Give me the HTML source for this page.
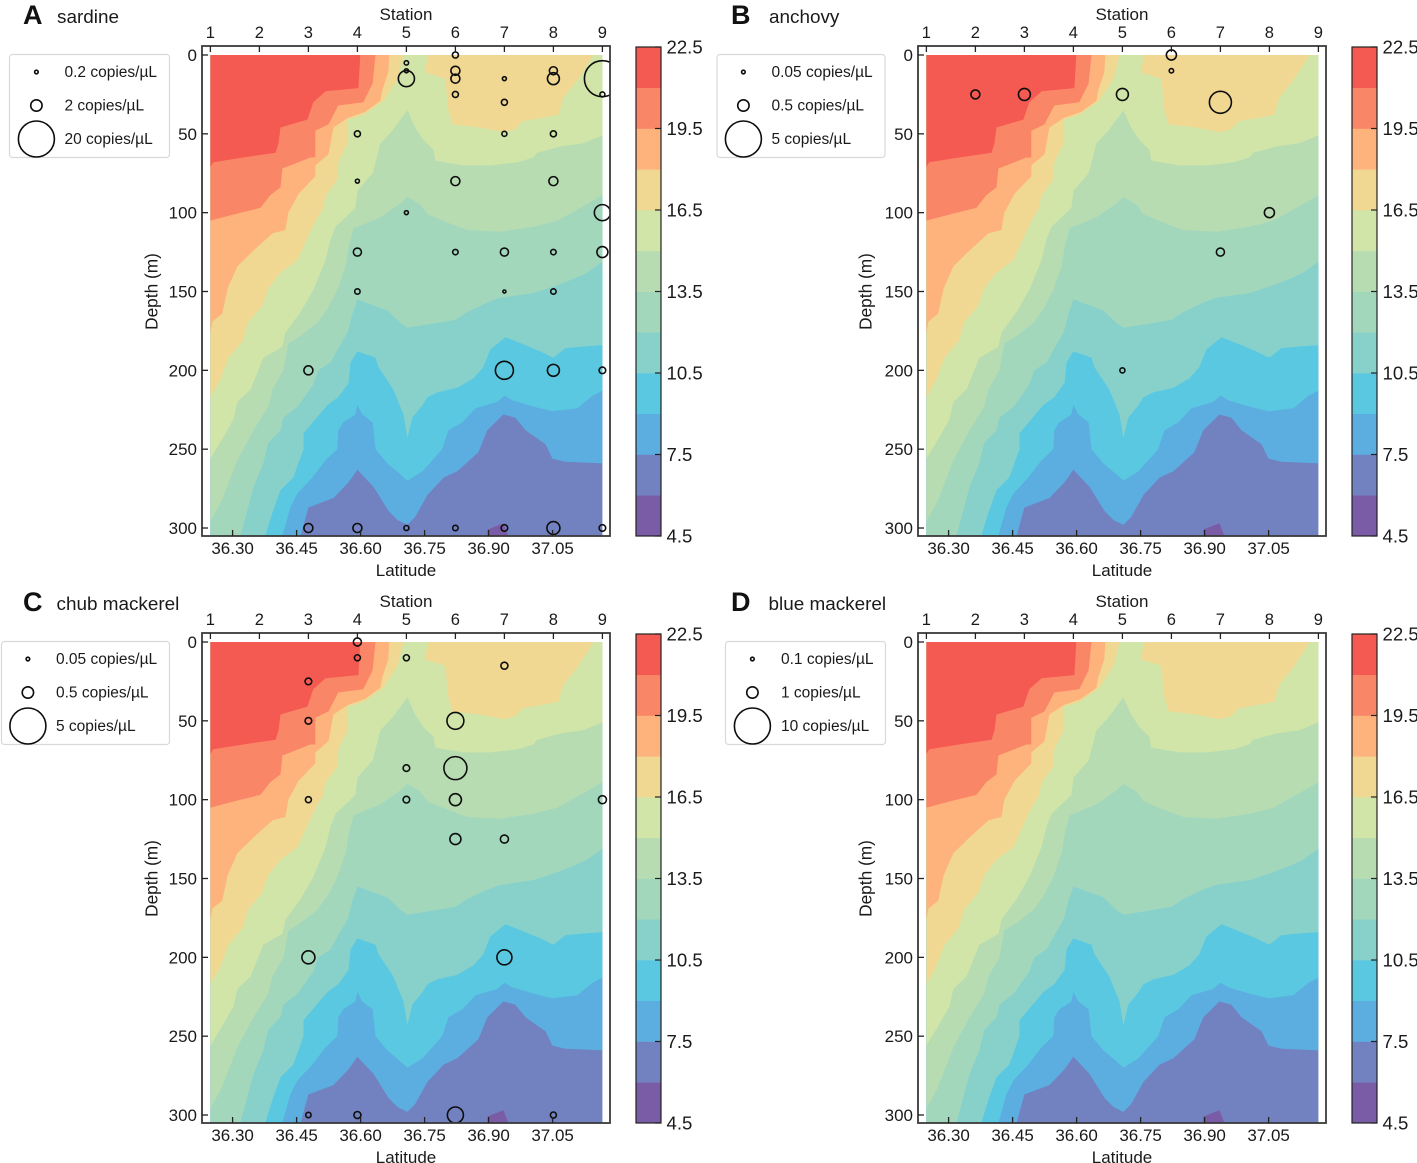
<!DOCTYPE html>
<html lang="en">
<head>
<meta charset="utf-8">
<title>Species eDNA concentration over temperature sections</title>
<style>
html,body{margin:0;padding:0;background:#fff;}
svg{display:block;font-family:"Liberation Sans",Arial,sans-serif;fill:#1a1a1a;}
</style>
</head>
<body>
<svg id="figure" xmlns="http://www.w3.org/2000/svg" width="1417" height="1163" viewBox="0 0 1417 1163"></svg>
<script>
/* ---------- axis values ---------- */
const stationTicks = [1,2,3,4,5,6,7,8,9];
const latitudeTicks = [36.30,36.45,36.60,36.75,36.90,37.05];
const depthTicks = [0,50,100,150,200,250,300];
const colorbarLevels = [4.5,6,7.5,9,10.5,12,13.5,15,16.5,18,19.5,21,22.5];
const colorbarTickValues = [4.5,7.5,10.5,13.5,16.5,19.5,22.5];
const bandColors = ['#7a5ba6','#7281c0','#5cade0','#5ac8e0','#88d1cb','#a2d7bc','#b8dcb2','#d2e5a8','#f0d792','#fdb37b','#fa8668','#f55a52'];

/* ---------- temperature contours, [station, depth m] ---------- */
const contour6Pocket = [[6.65,305],[6.65,301],[6.98,297],[7.08,305]];
const contour7p5 = [[2.84,305],[3,287],[3.51,281],[3.82,271],[4,263],[4.33,274],[4.63,289],[4.82,295],[5.02,298],[5.18,293],[5.43,279],[5.76,268],[6.04,264],[6.47,252],[6.65,238],[6.98,228],[7.22,230],[7.43,238],[7.84,247],[7.98,256],[8.24,258],[9,259]];
const contour9 = [[2.47,305],[2.63,287],[2.78,278],[3.08,268],[3.35,257],[3.59,250],[3.61,238],[3.71,233],[3.96,228],[4,222],[4.1,228],[4.31,233],[4.37,250],[4.61,259],[4.88,266],[5.02,270],[5.33,264],[5.73,250],[5.86,238],[6.14,233],[6.41,224],[6.86,220],[7,216],[7.16,219],[7.59,223],[7.98,226],[8.49,224],[8.8,216],[9,213]];
const contour10p5 = [[2.12,305],[2.27,290],[2.43,276],[2.69,268],[2.9,250],[2.9,240],[3.14,231],[3.39,222],[3.61,217],[3.82,208],[3.86,195],[4,188],[4.37,192],[4.43,198],[4.73,212],[4.94,228],[5.02,243],[5.12,230],[5.33,222],[5.43,217],[5.63,214],[6.04,211],[6.37,205],[6.57,198],[6.71,187],[7.02,179],[7.27,182],[7.73,188],[8,192],[8.24,186],[8.55,185],[9,184]];
const contour12 = [[1.61,305],[1.82,281],[1.88,274],[2.08,259],[2.18,246],[2.43,238],[2.49,230],[2.78,223],[3.1,209],[3.2,200],[3.45,195],[3.61,186],[3.8,176],[3.9,164],[4,155],[4.61,162],[4.88,170],[5.02,173],[6,168],[6.24,163],[6.65,157],[6.92,154],[7.59,151],[8.08,146],[8.49,141],[8.69,138],[9,131]];
const contour13p5 = [[1,296],[1.24,282],[1.55,257],[1.88,238],[2.18,223],[2.27,212],[2.49,200],[2.59,183],[2.84,178],[3.18,170],[3.41,160],[3.59,149],[3.76,134],[3.82,122],[3.92,110],[4.47,103],[4.88,94],[5.02,90],[5.29,95],[5.43,101],[5.9,107],[6.24,111],[6.92,112],[7.59,109],[8.08,105],[8.49,98],[9,89]];
const contour15 = [[1,256],[1.27,242],[1.47,231],[1.55,220],[1.82,212],[2.08,192],[2.47,185],[2.53,176],[2.84,163],[3.1,149],[3.35,130],[3.45,117],[3.55,109],[3.96,97],[4,86],[4.31,75],[4.47,56],[4.71,48],[4.88,41],[5.02,35],[5.18,46],[5.35,54],[5.55,60],[5.59,67],[6.16,70],[6.71,70],[7.27,68],[7.59,65],[7.67,62],[8.14,58],[8.61,56],[9,51]];
const contour16p5West = [[1,217],[1.2,206],[1.37,192],[1.67,181],[1.76,170],[2.06,159],[2.18,148],[2.43,138],[2.78,130],[2.98,116],[3.18,103],[3.29,98],[3.35,89],[3.59,79],[3.61,68],[3.8,56],[3.8,41],[4.12,38],[4.53,29],[4.82,15],[4.94,0]];
const contour16p5East = [[5.45,0],[5.37,11],[5.8,15],[5.84,33],[5.94,44],[6.51,46],[6.98,49],[7.22,47],[7.37,42],[8.1,38],[8.2,27],[8.49,16],[8.82,0]];
const contour18 = [[1,176],[1.04,169],[1.24,164],[1.35,148],[1.55,134],[1.88,124],[2.27,113],[2.53,111],[2.59,100],[2.8,88],[3.14,77],[3.14,70],[3.41,63],[3.51,46],[3.8,40],[4.16,36],[4.47,29],[4.51,22],[4.63,11],[4.65,0]];
const contour19p5 = [[1,105],[1.61,100],[2.02,97],[2.22,89],[2.43,84],[2.47,72],[3.04,65],[3.14,65],[3.14,48],[3.41,44],[3.61,32],[4.12,30],[4.31,18],[4.37,0]];
const contour21 = [[1,71],[1.06,68],[1.67,65],[2.33,62],[2.39,56],[2.43,46],[2.98,41],[3.1,30],[3.35,23],[4.02,21],[4.06,0]];

/* ---------- eDNA samples, [station, depth m, copies/uL] ---------- */
const sardineSamples = [[3,200,1.25],[3,300,1.25],[4,50,0.56],[4,80,0.25],[4,125,1],[4,150,0.45],[4,300,1.25],[5,5,0.3],[5,10,0.25],[5,15,4],[5,100,0.25],[5,300,0.39],[6,0,0.56],[6,10,1.25],[6,15,1.25],[6,25,0.56],[6,80,1.25],[6,125,0.45],[6,300,0.45],[7,15,0.25],[7,30,0.56],[7,50,0.39],[7,125,1],[7,150,0.14],[7,200,5],[7,300,0.67],[8,10,1],[8,15,2.2],[8,50,0.56],[8,80,1.25],[8,125,0.45],[8,150,0.45],[8,200,2.2],[8,300,2.6],[9,15,20],[9,25,0.39],[9,100,4],[9,125,1.87],[9,200,0.67],[9,300,0.67]];
const anchovySamples = [[2,25,0.31],[3,25,0.55],[5,25,0.55],[5,200,0.1],[6,0,0.39],[6,10,0.075],[7,30,1.87],[7,125,0.25],[8,100,0.39]];
const chubSamples = [[3,25,0.17],[3,50,0.17],[3,100,0.14],[3,200,0.65],[3,300,0.11],[4,0,0.25],[4,10,0.14],[4,300,0.19],[5,10,0.14],[5,80,0.17],[5,100,0.17],[6,50,1.1],[6,80,2.04],[6,100,0.56],[6,125,0.47],[6,300,0.99],[7,15,0.19],[7,125,0.25],[7,200,0.87],[8,300,0.14],[9,100,0.25]];
const blueSamples = [];

const sardineLegend = [0.2,2,20];
const anchovyLegend = [0.05,0.5,5];
const chubLegend = [0.05,0.5,5];
const blueLegend = [0.1,1,10];

/* ---------- scales ---------- */
const xStation = s => 210.4 + (s - 1) * 49;
const xLatitude = l => 232.6 + (l - 36.30) / 0.15 * 64;
const yDepth = d => 55 + d * 1.5767;
const yColorbar = t => 536 - (t - 4.5) / 18 * 489;
const radius = (v, maxV) => 18 * Math.sqrt(v / maxV);

const NS = 'http://www.w3.org/2000/svg';
const root = document.getElementById('figure');

function mk(parent, tag, props, txt) {
  const el = document.createElementNS(NS, tag);
  for (const k in props) el.setAttribute(k, props[k]);
  if (txt !== undefined) el.textContent = txt;
  parent.appendChild(el);
  return el;
}
function pointsOf(line, closing) {
  return line.concat(closing).map(p => xStation(p[0]).toFixed(1) + ',' + yDepth(p[1]).toFixed(1)).join(' ');
}

const topLeft = [[1,0]];
const topEdge = [[9,0],[1,0]];
const topAndLeft = [[9,0],[1,0],[1,305]];
const layers = [
  ['band-4p5-6', contour6Pocket, [], 0],
  ['band-7p5-9', contour7p5, topAndLeft, 2],
  ['band-9-10p5', contour9, topAndLeft, 3],
  ['band-10p5-12', contour10p5, topAndLeft, 4],
  ['band-12-13p5', contour12, topAndLeft, 5],
  ['band-13p5-15', contour13p5, topEdge, 6],
  ['band-15-16p5', contour15, topEdge, 7],
  ['band-16p5-18-west', contour16p5West, topLeft, 8],
  ['band-16p5-18-east', contour16p5East, [], 8],
  ['band-18-19p5', contour18, topLeft, 9],
  ['band-19p5-21', contour19p5, topLeft, 10],
  ['band-21-22p5', contour21, topLeft, 11]
];

function drawPanel(cfg) {
  const g = mk(root, 'g', {transform: 'translate(' + cfg.dx + ',' + cfg.dy + ')'});
  
  

  /* panel letter and title */
  const letter = mk(g, 'text', {x: cfg.letterX, y: 24, 'font-size': 27, 'font-weight': 'bold', fill: '#111'}, cfg.letter);
  
  
  const title = mk(g, 'text', {x: cfg.titleX, y: 23, 'font-size': 18.9}, cfg.title);
  
  

  /* contour fill */
  const clipId = 'clip-' + cfg.key;
  const cp = mk(g, 'clipPath', {id: clipId});
  mk(cp, 'rect', {x: 202, y: 46, width: 408, height: 490});

  const field = mk(g, 'g', {});
  
  
  const base = mk(field, 'rect', {x: xStation(1), y: yDepth(0), width: xStation(9) - xStation(1), height: yDepth(305) - yDepth(0), fill: bandColors[1]});
  
  
  layers.forEach(function (l) {
    const poly = mk(field, 'polygon', {points: pointsOf(l[1], l[2]), fill: bandColors[l[3]]});
    
    
  });

  /* samples */
  const maxV = cfg.legend[2];
  const marks = mk(g, 'g', {'clip-path': 'url(#' + clipId + ')'});
  
  
  cfg.samples.forEach(function (s) {
    const c = mk(marks, 'circle', {cx: xStation(s[0]), cy: yDepth(s[1]), r: radius(s[2], maxV).toFixed(2), fill: 'none', stroke: '#0d0d0d', 'stroke-width': 1.6});
    
    
  });

  /* frame and axes */
  const frame = mk(g, 'rect', {x: 202, y: 46, width: 408, height: 490, fill: 'none', stroke: '#3a3a3a', 'stroke-width': 1.8});
  
  

  const topAxis = mk(g, 'g', {});
  
  
  stationTicks.forEach(function (s) {
    mk(topAxis, 'line', {x1: xStation(s), x2: xStation(s), y1: 46, y2: 52, stroke: '#222', 'stroke-width': 1.3});
    const t = mk(topAxis, 'text', {x: xStation(s), y: 38, 'font-size': 16.5, 'text-anchor': 'middle'}, String(s));
    
    
  });
  const stTitle = mk(g, 'text', {x: 406, y: 20, 'font-size': 17, 'text-anchor': 'middle'}, 'Station');
  
  

  const botAxis = mk(g, 'g', {});
  
  
  latitudeTicks.forEach(function (l) {
    mk(botAxis, 'line', {x1: xLatitude(l), x2: xLatitude(l), y1: 530, y2: 536, stroke: '#222', 'stroke-width': 1.3});
    const t = mk(botAxis, 'text', {x: xLatitude(l), y: 554, 'font-size': 17, 'text-anchor': 'middle'}, l.toFixed(2));
    
    
  });
  const latTitle = mk(g, 'text', {x: 406, y: 576, 'font-size': 17, 'text-anchor': 'middle'}, 'Latitude');
  
  

  const leftAxis = mk(g, 'g', {});
  
  
  depthTicks.forEach(function (d) {
    mk(leftAxis, 'line', {x1: 202, x2: 208, y1: yDepth(d), y2: yDepth(d), stroke: '#222', 'stroke-width': 1.3});
    const t = mk(leftAxis, 'text', {x: 197, y: yDepth(d) + 6, 'font-size': 17, 'text-anchor': 'end'}, String(d));
    
    
  });
  const depthTitle = mk(g, 'text', {x: 0, y: 0, 'font-size': 17.3, 'text-anchor': 'middle', transform: 'translate(' + cfg.depthTitleX + ',291.5) rotate(-90)'}, 'Depth (m)');
  
  

  /* colorbar */
  const cb = mk(g, 'g', {});
  
  
  bandColors.forEach(function (col, i) {
    const top = yColorbar(colorbarLevels[i + 1]);
    const bot = yColorbar(colorbarLevels[i]);
    const r = mk(cb, 'rect', {x: 636, y: top, width: 25, height: bot - top + 0.3, fill: col});
    
    
  });
  mk(cb, 'rect', {x: 636, y: yColorbar(22.5), width: 25, height: 489, fill: 'none', stroke: '#222', 'stroke-width': 1.2});
  colorbarTickValues.forEach(function (v) {
    mk(cb, 'line', {x1: 655, x2: 661, y1: yColorbar(v), y2: yColorbar(v), stroke: '#222', 'stroke-width': 1.2});
    const t = mk(cb, 'text', {x: 666.5, y: yColorbar(v) + 6.5, 'font-size': 18.6}, v.toFixed(1));
    
    
  });

  /* legend */
  const lg = mk(g, 'g', {});
  
  
  mk(lg, 'rect', {x: cfg.legendX + 0.5, y: 54.5, width: cfg.legendW, height: 103, rx: 3, fill: '#fff', stroke: '#d9d9d9', 'stroke-width': 1.2});
  const rowY = [72, 105.5, 139];
  cfg.legend.forEach(function (v, i) {
    const c = mk(lg, 'circle', {cx: cfg.legendCx + 0.4, cy: rowY[i], r: radius(v, maxV).toFixed(2), fill: 'none', stroke: '#0d0d0d', 'stroke-width': 1.6});
    
    
    const t = mk(lg, 'text', {x: cfg.legendTextX, y: rowY[i] + 5, 'font-size': 15.5}, v + ' copies/\u00B5L');
    
    
  });
}

drawPanel({key: 'sardine', letter: 'A', title: 'sardine', dx: 0, dy: 0, letterX: 23, titleX: 57, depthTitleX: 157.5, samples: sardineSamples, legend: sardineLegend, legendX: 9, legendW: 160, legendCx: 36, legendTextX: 64.5});
drawPanel({key: 'anchovy', letter: 'B', title: 'anchovy', dx: 716, dy: 0, letterX: 15, titleX: 53, depthTitleX: 155.5, samples: anchovySamples, legend: anchovyLegend, legendX: 0.5, legendW: 168, legendCx: 27, legendTextX: 55.5});
drawPanel({key: 'chub-mackerel', letter: 'C', title: 'chub mackerel', dx: 0, dy: 587, letterX: 23, titleX: 56.5, depthTitleX: 157.5, samples: chubSamples, legend: chubLegend, legendX: 1, legendW: 168, legendCx: 27.5, legendTextX: 56});
drawPanel({key: 'blue-mackerel', letter: 'D', title: 'blue mackerel', dx: 716, dy: 587, letterX: 15, titleX: 52.5, depthTitleX: 155.5, samples: blueSamples, legend: blueLegend, legendX: 9, legendW: 160, legendCx: 36, legendTextX: 65});
</script>
</body>
</html>
